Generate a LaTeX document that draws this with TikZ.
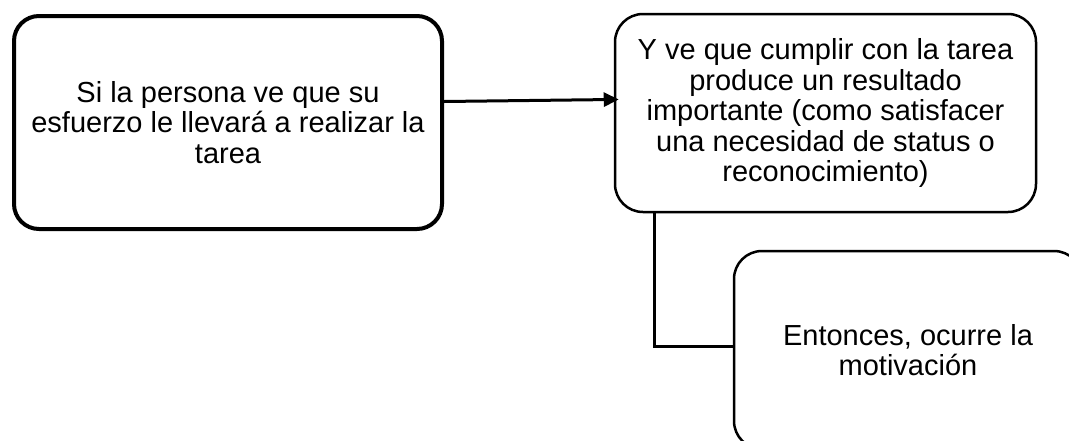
\documentclass[tikz,border=0pt]{standalone}
\usepackage{fontspec}
\setmainfont{Liberation Sans}
\usetikzlibrary{arrows.meta}
\begin{document}
\begin{tikzpicture}[x=1pt,y=-1pt,
  box/.style={draw, rounded corners=#1, align=center, inner sep=0pt,
    font=\fontsize{29}{30.5}\selectfont},
  box/.default=26pt,
  conn/.style={line width=3pt}]
\useasboundingbox (0,0) rectangle (1069,440);
\clip (0,0) rectangle (1069,440);
\node[box=25pt, line width=4pt, minimum width=428pt, minimum height=213pt] (left) at (228,122.5)
  {Si la persona ve que su\\esfuerzo le llevará a realizar la\\tarea};
\node[box=28pt, line width=2.5pt, minimum width=421pt, minimum height=198pt] (top) at (825.5,113)
  {Y ve que cumplir con la tarea\\produce un resultado\\importante (como satisfacer\\una necesidad de status o\\reconocimiento)};
\node[box=28pt, line width=2.5pt, minimum width=348pt, minimum height=198pt] (bot) at (908,350)
  {Entonces, ocurre la\\motivación};
\draw[conn, -{Triangle[length=15pt,width=14pt]}, shorten >=-5pt]
  (left.east |- 0,101.5) -- (top.west |- 0,99.5);
\draw[conn] ([xshift=41pt]top.south west) |- (bot.west |- 0,346);
\end{tikzpicture}
\end{document}
